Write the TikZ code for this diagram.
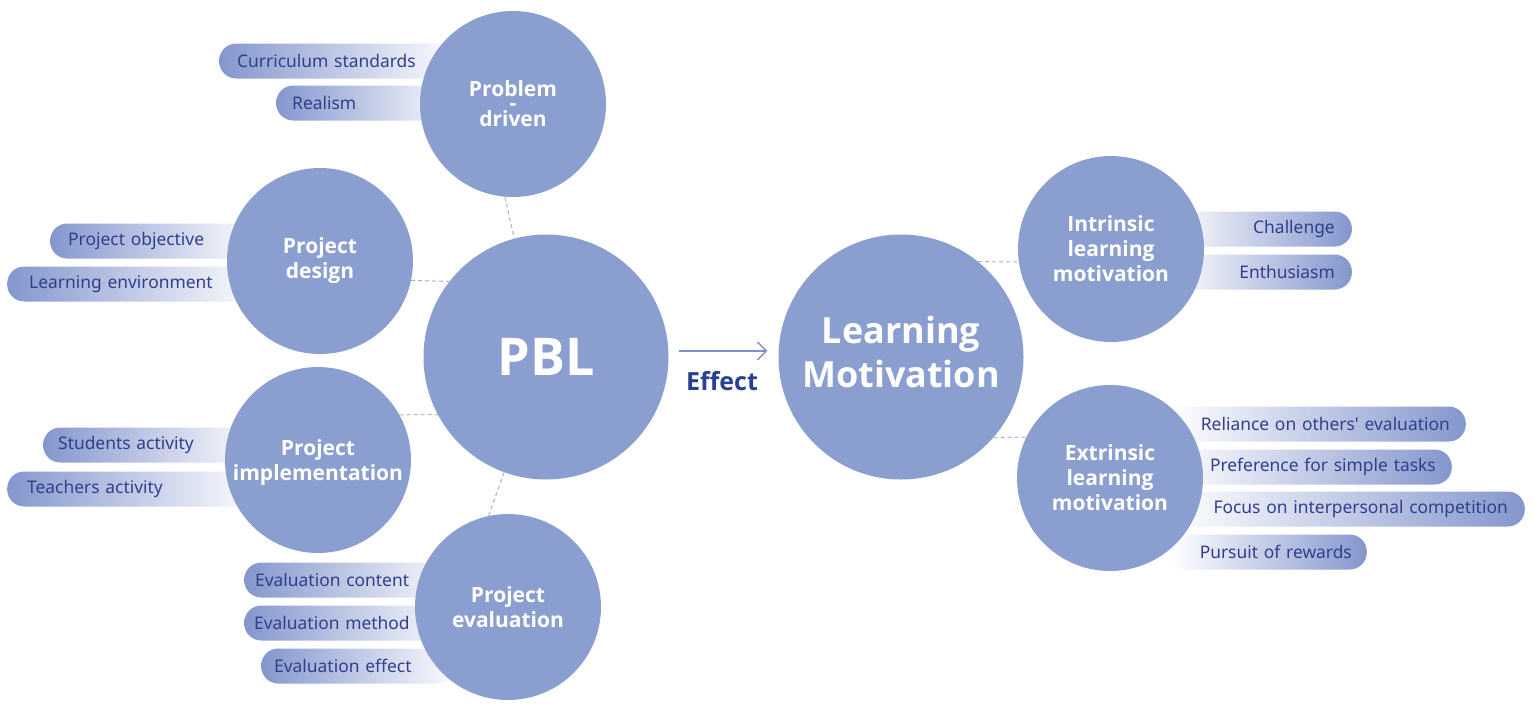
\documentclass[tikz,border=0pt]{standalone}
\usepackage{fontspec}
\setmainfont{Noto Sans}
\newfontfamily\pillf{Noto Sans}
\newfontfamily\headf{Open Sans}
\usetikzlibrary{arrows.meta,calc}
\definecolor{circ}{RGB}{138,158,207}
\definecolor{pillc}{RGB}{132,150,205}
\definecolor{ptext}{RGB}{48,64,140}
\definecolor{effc}{RGB}{40,64,145}
\definecolor{dsh}{RGB}{165,178,218}
\definecolor{arrc}{RGB}{125,145,205}
\newcommand\shiftlab[2]{\raisebox{#1}[\height][\depth]{\begin{tabular}{@{}c@{}}#2\end{tabular}}}
\begin{document}
\begin{tikzpicture}[x=1pt,y=-1pt,
  bub/.style={circle, fill=circ, text=white, font=\headf\bfseries\fontsize{21}{25}\selectfont, align=center, minimum size=186pt, inner sep=0pt},
  big/.style={bub, minimum size=245pt},
  pillbase/.style={rounded corners=17pt, minimum height=35pt, inner xsep=17pt, inner ysep=0pt, text=ptext, font=\pillf\fontsize{17.4}{20}\selectfont},
  lpill/.style={pillbase, anchor=west, left color=pillc, right color=white, align=left},
  rpill/.style={pillbase, anchor=east, left color=white, right color=pillc, align=right},
  link/.style={draw=dsh, line width=1pt, dash pattern=on 4pt off 3pt},
  effarrow/.style={draw=arrc, line width=1.3pt, -{Straight Barb[length=9pt,width=18pt,line width=1.3pt]}}
]
\useasboundingbox (0,0) rectangle (1535,710);
% left pills
\node[lpill, inner xsep=18pt, text width=205pt] (cs) at (219,61) {Curriculum standards};
\node[lpill, inner xsep=16pt, text width=152pt] (re) at (276,103) {Realism};
\node[lpill, inner xsep=18pt, text width=174pt] (po) at (50,241) {Project objective};
\node[lpill, inner xsep=22pt, text width=209pt] (le) at (7,284) {Learning environment};
\node[lpill, inner xsep=15pt, text width=187pt] (sa) at (43,445) {Students activity};
\node[lpill, inner xsep=20pt, text width=213pt] (ta) at (7,489) {Teachers activity};
\node[lpill, inner xsep=11pt, text width=194pt] (ec) at (244,580) {Evaluation content};
\node[lpill, inner xsep=10pt, text width=196pt] (em) at (244,623) {Evaluation method};
\node[lpill, inner xsep=13pt, text width=173pt] (ee) at (261,666) {Evaluation effect};
% right pills
\node[rpill, text width=148pt] (ch) at (1352,229) {Challenge};
\node[rpill, text width=148pt] (en) at (1352,272) {Enthusiasm};
\node[rpill, inner xsep=16pt, text width=264pt] (ro) at (1466,424) {Reliance on others' evaluation};
\node[rpill, inner xsep=16pt, text width=250pt] (pf) at (1452,467) {Preference for simple tasks};
\node[rpill, text width=321pt] (fc) at (1525,509) {Focus on interpersonal competition};
\node[rpill, inner xsep=15pt, text width=167pt] (pr) at (1367,552) {Pursuit of rewards};
% circles
\node[bub] (pdrv) at (513,104) {Problem\\[-11pt]-\\[-9pt]driven};
\node[bub] (pdes) at (320,261) {Project\\design};
\node[bub] (pimp) at (318,460) {\shiftlab{-3pt}{Project\\implementation}};
\node[bub] (peva) at (508,607) {\shiftlab{-3pt}{Project\\evaluation}};
\node[big, font=\headf\bfseries\fontsize{52}{60}\selectfont] (pbl) at (546,357) {PBL};
\node[big, font=\headf\bfseries\fontsize{36}{44}\selectfont] (lm) at (901,357) {Learning\\Motivation\\[-34pt]\mbox{}};
\node[bub] (intr) at (1111,249) {Intrinsic\\learning\\motivation};
\node[bub] (extr) at (1110,478) {\shiftlab{-2pt}{Extrinsic\\learning\\motivation}};
% dashed links
\draw[link] (pdrv.265) -- (pbl.105);
\draw[link] (pdes.-12) -- (pbl.142);
\draw[link] (pimp.29) -- (pbl.208);
\draw[link] (peva.102) -- (pbl.250);
\draw[link] (lm.51) -- (intr.188);
\draw[link] (lm.-41) -- (extr.154);
% effect arrow
\draw[effarrow] ($(pbl.east)+(10,-6)$) -- ($(lm.west)+(-11,-6)$);
\node[font=\headf\bfseries\fontsize{25}{30}\selectfont, text=effc] (eff) at (722,381) {Effect};
\end{tikzpicture}
\end{document}
